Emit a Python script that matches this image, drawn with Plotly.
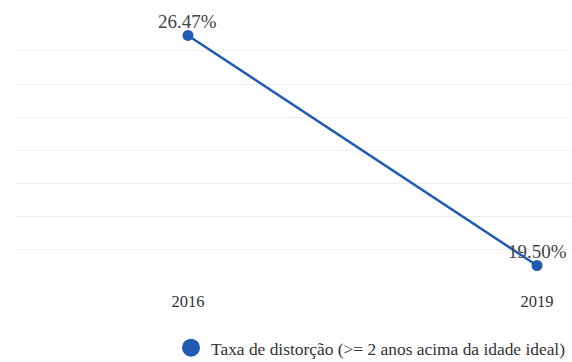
import plotly.graph_objects as go

# Series data
years = ["2016", "2019"]
rates = [26.47, 19.50]
rate_labels = ["26.47%", "19.50%"]
series_name = "Taxa de distorção (>= 2 anos acima da idade ideal)"

blue = "#1f5bb5"
serif = "Liberation Serif"

fig = go.Figure()

# Line with markers
fig.add_trace(go.Scatter(
    x=years, y=rates,
    mode="lines+markers",
    line=dict(color=blue, width=2.5),
    marker=dict(color=blue, size=11),
    cliponaxis=False,
    showlegend=False,
    hoverinfo="skip",
))

# Value labels just above each point (category index on the x axis)
for i, (yv, lbl) in enumerate(zip(rates, rate_labels)):
    fig.add_annotation(
        x=i, y=yv, text=lbl,
        showarrow=False,
        yanchor="middle", yshift=14,
        font=dict(family=serif, size=19, color="#444444"),
    )

# Legend entry (circle only)
fig.add_trace(go.Scatter(
    x=[None], y=[None],
    mode="markers",
    name=series_name,
    marker=dict(color=blue, size=16, line=dict(color=blue, width=2)),
    showlegend=True,
))

fig.update_layout(
    width=572, height=362,
    margin=dict(l=16, r=1, t=17, b=79, autoexpand=False),
    paper_bgcolor="white",
    plot_bgcolor="white",
    font=dict(family=serif, color="#333333"),
    xaxis=dict(
        type="category",
        range=[-0.4928, 1.0974],
        showgrid=False,
        zeroline=False,
        showline=False,
        ticks="",
        tickfont=dict(family=serif, size=16.5, color="#333333"),
        ticklabelstandoff=6,
    ),
    yaxis=dict(
        range=[18.97, 27.03],
        tickvals=[19, 20, 21, 22, 23, 24, 25, 26, 27],
        showgrid=True,
        gridcolor="#eeeeee",
        gridwidth=1,
        zeroline=False,
        showticklabels=False,
        ticks="",
    ),
    legend=dict(
        orientation="h",
        x=1, xanchor="right",
        y=-0.244, yanchor="middle",
        font=dict(family=serif, size=17.4, color="#333333"),
        itemsizing="trace",
    ),
)

fig.write_html("out.html")
